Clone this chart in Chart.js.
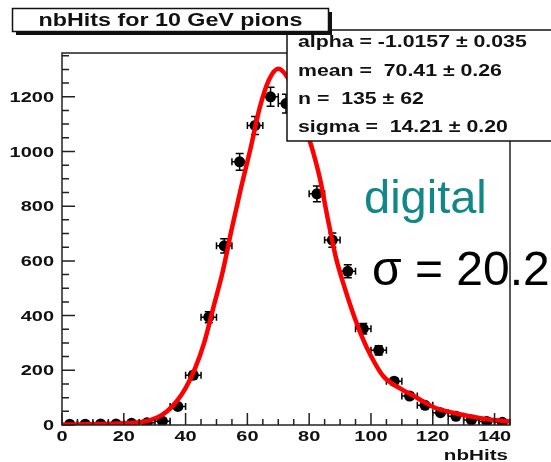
<!DOCTYPE html>
<html><head><meta charset="utf-8">
<script src="https://cdn.jsdelivr.net/npm/chart.js@4/dist/chart.umd.min.js"></script>
<style>html,body{margin:0;padding:0;background:#fff;overflow:hidden}#wrap{width:551px;height:462px;position:relative}</style>
</head><body><div id="wrap"><canvas id="c" width="551" height="462"></canvas></div>
<script>
// ---- data ----
const binCenters = [2.5,7.5,12.5,17.5,22.5,27.5,32.5,37.5,42.5,47.5,52.5,57.5,62.5,67.5,72.5,77.5,82.5,87.5,92.5,97.5,102.5,107.5,112.5,117.5,122.5,127.5,132.5,137.5,142.5];
const counts = [3,3,4,4,6,8,14,68,182,394,655,962,1095,1200,1175,1085,845,676,562,352,273,160,106,72,45,32,18,13,10];
const countErrors = [2,2,2,2,2.5,3,4,8,14,20,26,31,33,35,34,33,29,26,24,19,17,13,10,8.5,7,5.5,4,3.5,3];
const binHalfWidths = [2.5,2.5,2.5,2.5,2.5,2.5,2.5,2.5,2.5,2.5,2.5,2.5,2.5,2.5,2.5,2.5,2.5,2.5,2.5,2.5,2.5,2.5,2.5,2.5,2.5,2.5,2.5,2.5,2.5];
const fitX = [0,5,10,15,20,25,28,31,34,37,40,43,46,49,52,55,58,61,64,67,70,73,76,79,81.1,83.5,86,88.7,91.4,94,97,100,104,109.7,115,120.5,127,133.4,138.8,145];
const fitY = [2,2,3,4,6,10,16,28,50,85,135,205,300,430,560,720,870,1010,1160,1262,1302,1270,1195,1080,1005,900,755,610,505,415,325,252,178,132,99,64,44,29,19,13];
const xTicks = [0,20,40,60,80,100,120,140];
const yTicks = [0,200,400,600,800,1000,1200];
const titleText = 'nbHits for 10 GeV pions';
const statsLines = ['alpha = -1.0157 \u00b1 0.035','mean =  70.41 \u00b1 0.26','n =  135 \u00b1 62','sigma =  14.21 \u00b1 0.20'];
const xAxisTitle = 'nbHits';
const noteLabel = 'digital';
const noteSigma = '\u03c3 = 20.2';

const SX = 1.33;
const ROOTFONT = '"Liberation Sans", Arial, Helvetica, sans-serif';
function sText(ctx, txt, x, y, align, size, baseline) {
  ctx.save();
  ctx.font = 'bold ' + size + 'px ' + ROOTFONT;
  ctx.fillStyle = '#111';
  ctx.textAlign = align;
  ctx.textBaseline = baseline || 'alphabetic';
  ctx.translate(x, y); ctx.scale(SX, 1);
  ctx.fillText(txt, 0, 0);
  ctx.restore();
}

const rootPlugin = {
  id: 'rootStyle',
  beforeDatasetsDraw(chart) {
    const ctx = chart.ctx, xs = chart.scales.x, ys = chart.scales.y, a = chart.chartArea;
    ctx.save();
    ctx.beginPath(); ctx.rect(a.left, a.top, a.right - a.left, a.bottom - a.top); ctx.clip();
    ctx.strokeStyle = '#000'; ctx.lineWidth = 1.5;
    binCenters.forEach((b, i) => {
      const px = xs.getPixelForValue(b), py = ys.getPixelForValue(counts[i]);
      const x0 = xs.getPixelForValue(b - binHalfWidths[i]), x1 = xs.getPixelForValue(b + binHalfWidths[i]);
      const y0 = ys.getPixelForValue(counts[i] - countErrors[i]), y1 = ys.getPixelForValue(counts[i] + countErrors[i]);
      ctx.beginPath();
      ctx.moveTo(x0, py); ctx.lineTo(x1, py);
      ctx.moveTo(x0, py - 3.5); ctx.lineTo(x0, py + 3.5);
      ctx.moveTo(x1, py - 3.5); ctx.lineTo(x1, py + 3.5);
      ctx.moveTo(px, y0); ctx.lineTo(px, y1);
      ctx.moveTo(px - 4, y0); ctx.lineTo(px + 4, y0);
      ctx.moveTo(px - 4, y1); ctx.lineTo(px + 4, y1);
      ctx.stroke();
    });
    ctx.restore();
  },
  afterDraw(chart) {
    const ctx = chart.ctx, xs = chart.scales.x, ys = chart.scales.y, a = chart.chartArea;
    ctx.save();
    // frame
    ctx.strokeStyle = '#222'; ctx.lineWidth = 1.5;
    ctx.strokeRect(a.left, a.top, a.right - a.left, a.bottom - a.top);
    // ticks (inside)
    ctx.beginPath();
    for (let v = 0; v <= ys.max; v += 50) {
      const y = ys.getPixelForValue(v);
      const len = (v % 200 === 0) ? 13 : 7;
      ctx.moveTo(a.left, y); ctx.lineTo(a.left + len, y);
    }
    for (let v = 0; v <= xs.max; v += 5) {
      const x = xs.getPixelForValue(v);
      const len = (v % 20 === 0) ? 12 : 6;
      ctx.moveTo(x, a.bottom); ctx.lineTo(x, a.bottom - len);
    }
    ctx.stroke();
    // tick labels
    ys.ticks.forEach(t => sText(ctx, String(t.value), 54, ys.getPixelForValue(t.value) + 1, 'right', 15, 'middle'));
    xs.ticks.forEach(t => sText(ctx, String(t.value), xs.getPixelForValue(t.value), 441, 'center', 15));
    sText(ctx, xAxisTitle, 508, 460, 'right', 15.5);
    // stats box
    ctx.fillStyle = '#fff';
    ctx.fillRect(287, 30, 280, 111);
    ctx.strokeStyle = '#111'; ctx.lineWidth = 1.5;
    ctx.strokeRect(287, 30, 280, 111);
    const baselines = [47, 75.5, 103.5, 131.5];
    statsLines.forEach((s, i) => sText(ctx, s, 298, baselines[i], 'left', 16));
    // title box with shadow
    ctx.fillStyle = '#111';
    ctx.fillRect(16, 12, 316, 23);
    ctx.fillStyle = '#fff';
    ctx.fillRect(12.5, 8.5, 316, 23);
    ctx.strokeRect(12.5, 8.5, 316, 23);
    sText(ctx, titleText, 170.5, 26, 'center', 17.5);
    // overlay annotations
    ctx.font = '47px "Liberation Sans", Arial, sans-serif';
    ctx.fillStyle = '#128787';
    ctx.textAlign = 'left'; ctx.textBaseline = 'alphabetic';
    ctx.fillText(noteLabel, 364, 213);
    ctx.font = '48px "Liberation Sans", Arial, sans-serif';
    ctx.fillStyle = '#000';
    ctx.fillText(noteSigma, 372, 285);
    ctx.restore();
  }
};

new Chart(document.getElementById('c'), {
  type: 'scatter',
  data: {
    datasets: [
      {
        label: 'fit',
        data: fitX.map((x, i) => ({ x: x, y: fitY[i] })),
        showLine: true,
        borderColor: '#ff0000',
        borderWidth: 4.5,
        pointRadius: 0,
        cubicInterpolationMode: 'monotone',
        fill: false
      },
      {
        label: 'nbHits',
        data: binCenters.map((x, i) => ({ x: x, y: counts[i] })),
        showLine: false,
        pointRadius: 5.5,
        pointStyle: 'circle',
        backgroundColor: '#000',
        borderColor: '#000',
        borderWidth: 0
      }
    ]
  },
  options: {
    responsive: false,
    animation: false,
    devicePixelRatio: 1,
    layout: { padding: { left: 0, right: 41, top: 53, bottom: 0 } },
    plugins: { legend: { display: false }, tooltip: { enabled: false } },
    scales: {
      x: {
        type: 'linear', min: 0, max: 145,
        grid: { display: false }, border: { display: false },
        ticks: { display: false },
        afterBuildTicks(axis) { axis.ticks = xTicks.map(v => ({ value: v })); },
        afterFit(s) { s.height = 37; }
      },
      y: {
        type: 'linear', min: 0, max: 1360,
        grid: { display: false }, border: { display: false },
        ticks: { display: false },
        afterBuildTicks(axis) { axis.ticks = yTicks.map(v => ({ value: v })); },
        afterFit(s) { s.width = 62; }
      }
    }
  },
  plugins: [rootPlugin]
});
</script>
</body></html>
